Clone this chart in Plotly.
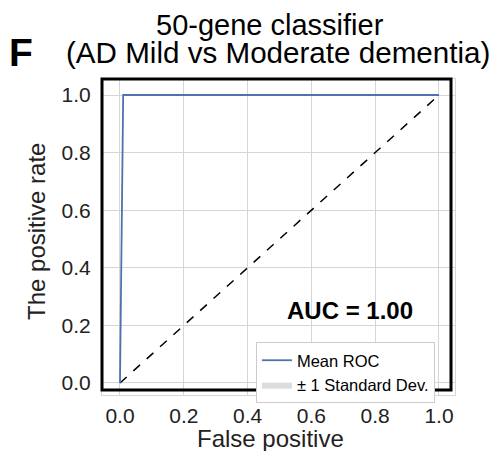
import plotly.graph_objects as go

# mean ROC across folds (perfect separation)
fpr_mean = [0.0, 0.01, 0.02, 0.2, 0.4, 0.6, 0.8, 1.0]
tpr_mean = [0.0, 1.0, 1.0, 1.0, 1.0, 1.0, 1.0, 1.0]
tpr_std = [0.0, 0.0, 0.0, 0.0, 0.0, 0.0, 0.0, 0.0]
chance_x = [0.0, 1.0]
chance_y = [0.0, 1.0]
auc_value = 1.00
tick_vals = [0.0, 0.2, 0.4, 0.6, 0.8, 1.0]
tick_text = ["0.0", "0.2", "0.4", "0.6", "0.8", "1.0"]

tpr_upper = [min(m + s, 1.0) for m, s in zip(tpr_mean, tpr_std)]
tpr_lower = [max(m - s, 0.0) for m, s in zip(tpr_mean, tpr_std)]

FONT = "Liberation Sans, Arial, sans-serif"

fig = go.Figure()

fig.add_trace(go.Scatter(
    x=fpr_mean + fpr_mean[::-1],
    y=tpr_upper + tpr_lower[::-1],
    mode="lines",
    fill="toself",
    fillcolor="rgba(205,205,205,0.7)",
    line=dict(width=0, color="rgba(205,205,205,0.7)"),
    name="± 1 Standard Dev.",
    hoverinfo="skip",
))

fig.add_trace(go.Scatter(
    x=chance_x, y=chance_y,
    mode="lines",
    line=dict(color="black", width=1.5, dash="dash"),
    showlegend=False,
))

fig.add_trace(go.Scatter(
    x=fpr_mean, y=tpr_mean,
    mode="lines",
    line=dict(color="#4c72b0", width=1.8),
    name="Mean ROC",
))

axis_common = dict(
    tickvals=tick_vals,
    ticktext=tick_text,
    showgrid=True,
    gridcolor="#d6d6d6",
    gridwidth=1,
    zeroline=False,
    showline=True,
    mirror=True,
    linecolor="#d6d6d6",
    linewidth=1,
    ticks="",
    automargin=False,
    tickfont=dict(family=FONT, size=21, color="#222"),
)

fig.update_xaxes(range=[-0.0564, 1.0502], ticklabelstandoff=2, **axis_common)
fig.update_yaxes(range=[-0.0417, 1.0556], ticklabelstandoff=6, **axis_common)

# thick black frame (slightly inside the axes area)
fig.add_shape(
    type="rect", xref="paper", yref="paper",
    x0=0, x1=0.9887, y0=0.0158, y1=1.0,
    line=dict(color="black", width=3),
)

fig.add_annotation(
    x=0.721, y=0.253, xref="x", yref="y",
    text="<b>AUC = %.2f</b>" % auc_value,
    showarrow=False,
    font=dict(family=FONT, size=24, color="black"),
)

# axis titles
fig.add_annotation(
    x=0.476, y=-0.137, xref="paper", yref="paper",
    text="False positive",
    showarrow=False, xanchor="center", yanchor="middle",
    font=dict(family=FONT, size=24, color="#222"),
)
fig.add_annotation(
    x=-0.184, y=0.516, xref="paper", yref="paper",
    text="The positive rate", textangle=-90,
    showarrow=False, xanchor="center", yanchor="middle",
    font=dict(family=FONT, size=24, color="#222"),
)

# two-line title
fig.add_annotation(
    x=0.476, y=1.171, xref="paper", yref="paper",
    text="50-gene classifier",
    showarrow=False, xanchor="center", yanchor="middle", borderpad=0,
    font=dict(family=FONT, size=29, color="black"),
)
fig.add_annotation(
    x=0.499, y=1.083, xref="paper", yref="paper",
    text="(AD Mild vs Moderate dementia)",
    showarrow=False, xanchor="center", yanchor="middle", borderpad=0,
    font=dict(family=FONT, size=29.6, color="black"),
)

# panel letter
fig.add_annotation(
    x=-0.27, y=1.085, xref="paper", yref="paper",
    text="<b>F</b>",
    showarrow=False,
    xanchor="left", yanchor="middle",
    font=dict(family=FONT, size=39, color="black"),
)

# page body adds an 8px margin, so the figure is 8px smaller than the window
fig.update_layout(
    template="none",
    width=496,
    height=443,
    margin=dict(l=94, r=49, t=71, b=56, autoexpand=False),
    paper_bgcolor="white",
    plot_bgcolor="white",
    legend=dict(
        x=0.436, y=0.1677, xanchor="left", yanchor="top",
        bgcolor="white",
        bordercolor="#cccccc",
        borderwidth=1,
        font=dict(family=FONT, size=16.5, color="black"),
        traceorder="reversed",
        tracegroupgap=0,
        itemwidth=30,
    ),
)

fig.write_html("out.html")
